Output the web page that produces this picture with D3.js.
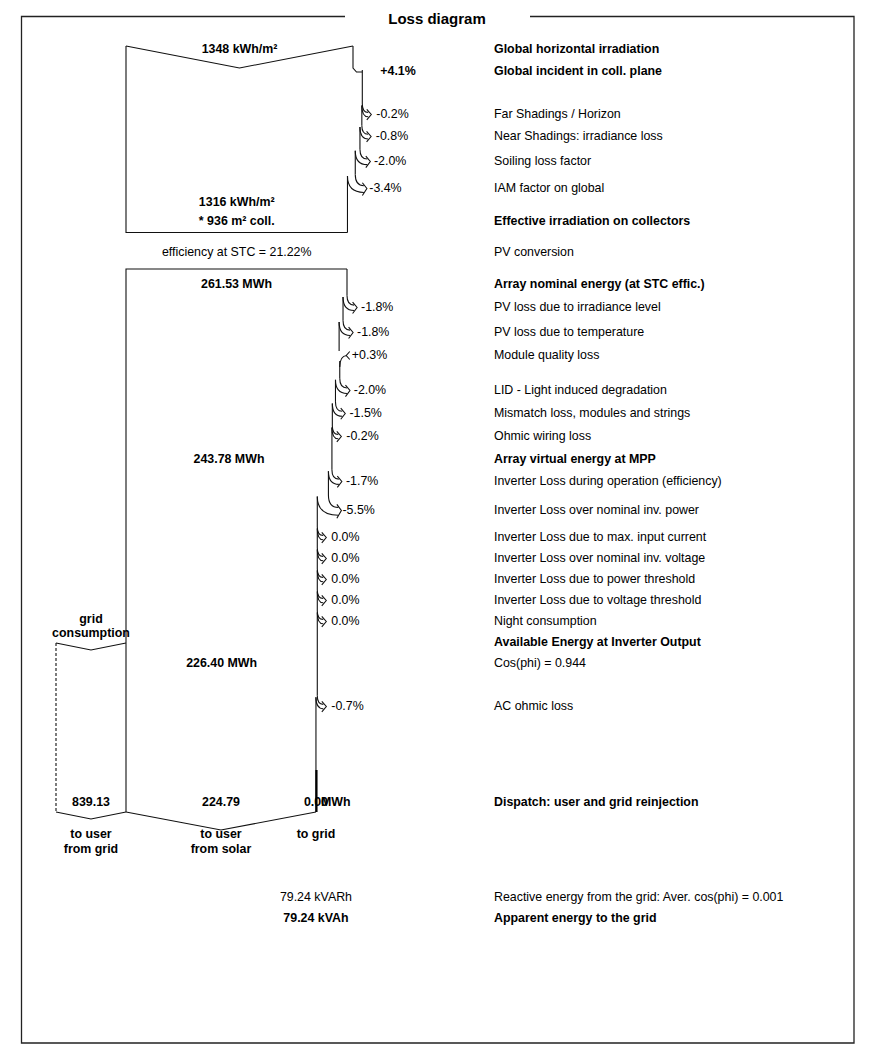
<!DOCTYPE html>
<html><head><meta charset="utf-8">
<script src="https://cdn.jsdelivr.net/npm/d3@7"></script>
<style>
body{margin:0;background:#fff}
text{font-family:"Liberation Sans",Arial,sans-serif;fill:#000}
</style>
</head><body>
<svg id="c" width="880" height="1050"></svg>
<script>
// ---------------- data ----------------
const rowLabels = [
  "Global horizontal irradiation",
  "Global incident in coll. plane",
  "Far Shadings / Horizon",
  "Near Shadings: irradiance loss",
  "Soiling loss factor",
  "IAM factor on global",
  "Effective irradiation on collectors",
  "PV conversion",
  "Array nominal energy (at STC effic.)",
  "PV loss due to irradiance level",
  "PV loss due to temperature",
  "Module quality loss",
  "LID - Light induced degradation",
  "Mismatch loss, modules and strings",
  "Ohmic wiring loss",
  "Array virtual energy at MPP",
  "Inverter Loss during operation (efficiency)",
  "Inverter Loss over nominal inv. power",
  "Inverter Loss due to max. input current",
  "Inverter Loss over nominal inv. voltage",
  "Inverter Loss due to power threshold",
  "Inverter Loss due to voltage threshold",
  "Night consumption",
  "Available Energy at Inverter Output",
  "Cos(phi) = 0.944",
  "AC ohmic loss",
  "Dispatch: user and grid reinjection",
  "Reactive energy from the grid: Aver. cos(phi) = 0.001",
  "Apparent energy to the grid"
];
const rowBold = [1,1,0,0,0,0,1,0,1,0,0,0,0,0,0,1,0,0,0,0,0,0,0,1,0,0,1,0,1];
// percentage change on each row (null = no loss/gain arrow)
const rowPct = [null,4.1,-0.2,-0.8,-2.0,-3.4,null,null,null,-1.8,-1.8,0.3,-2.0,-1.5,-0.2,null,-1.7,-5.5,0.0,0.0,0.0,0.0,0.0,null,null,-0.7,null,null,null];
// which block each row's arrow belongs to (1 = irradiation, 2 = energy)
const rowBlock = [0,1,1,1,1,1,0,0,0,2,2,2,2,2,2,0,2,2,2,2,2,2,2,0,0,2,0,0,0];

const irrGlobal = 1348;      // kWh/m²
const irrEffective = 1316;   // kWh/m²
const collArea = 936;        // m²
const stcEff = 21.22;        // %
const eNominal = 261.53;     // MWh
const eMPP = 243.78;         // MWh
const eInvOut = 226.40;      // MWh
const gridConsumption = 839.13;
const userFromSolar = 224.79;
const toGrid = 0.00;
const reactiveKVARh = 79.24;
const apparentKVAh = 79.24;

// ---------------- layout ----------------
const rowY = [49,71,114,136,161,188,221,252,284,307,332,355,390,413,436,459,481,510,537,558,579,600,621,642,663,706,802,897,918];
const labelX = 494;
const FS = 12.4;
const svg = d3.select("#c");
const x1 = d3.scaleLinear().domain([0, irrGlobal]).range([126, 353]);
const x2 = d3.scaleLinear().domain([0, eNominal]).range([126, 347]);
const line = "#111";

// frame
svg.append("path")
  .attr("d","M345,16.5 L21.5,16.5 L21.5,1043 L854,1043 L854,16.5 L530,16.5")
  .attr("fill","none").attr("stroke","#222").attr("stroke-width",1.3);
svg.append("text").attr("x",437).attr("y",19).attr("dy","0.36em")
  .attr("text-anchor","middle").attr("font-weight","bold").attr("font-size",15)
  .text("Loss diagram");

// right column labels
svg.append("g").selectAll("text").data(rowLabels).join("text")
  .attr("x",labelX).attr("y",(d,i)=>rowY[i]).attr("dy","0.36em")
  .attr("font-size",FS).attr("font-weight",(d,i)=>rowBold[i]?"bold":"normal")
  .text(d=>d);

function fmtPct(p){
  if (p>0) return "+"+p.toFixed(1)+"%";
  if (p<0) return p.toFixed(1)+"%";
  return "0.0%";
}

// draw a block's right edge with its loss/gain arrows
function drawEdge(block, xs, startE, topY, bottomY){
  let e = startE;
  let curX = xs(e), curY = topY;
  const g = svg.append("g").attr("fill","none").attr("stroke",line).attr("stroke-width",1.1);
  let first = true;
  rowPct.forEach((p,i)=>{
    if (rowBlock[i]!==block || p===null) return;
    const yc = rowY[i];
    const xOld = xs(e);
    e = e*(1+p/100);
    const xNew = xs(e);
    if (p>0 && block===1 && first){
      // step (transposition gain)
      g.append("path").attr("d",`M${xOld},${curY} L${xOld},${yc-3} L${xOld+3.5},${yc+1} L${xNew},${yc+1}`);
      curY = yc-1;
      svg.append("text").attr("x",xNew+18).attr("y",yc).attr("dy","0.36em")
        .attr("font-size",FS).attr("font-weight","bold").text(fmtPct(p));
    } else if (p>0){
      g.append("path").attr("d",`M${xOld},${curY} L${xOld},${yc-4}`);
      g.append("path").attr("d",`M${xNew},${yc+12} Q${xNew},${yc+1} ${xNew+7},${yc+0.5}`);
      g.append("path").attr("d",`M${xNew+10},${yc-3.5} L${xNew+6.5},${yc+0.5} L${xNew+10},${yc+4.5}`);
      curY = yc+6;
      svg.append("text").attr("x",xNew+12).attr("y",yc).attr("dy","0.36em")
        .attr("font-size",FS).text(fmtPct(p));
    } else {
      const w = Math.max(xOld-xNew, 1.2);
      const y0 = yc - 8 - w*0.5;
      const tx = xOld + 8 + w*0.4, ty = yc + 0.5;
      const eo = [tx-2.5, ty + 2 + w*0.25];
      const ei = [tx-2.5, ty - 2 - w*0.1];
      g.append("path").attr("d",`M${xOld},${curY} L${xOld},${y0-1.5}`);
      g.append("path").attr("d",`M${xOld},${y0-1.5} Q${xOld},${ei[1]} ${ei[0]},${ei[1]}`);
      g.append("path").attr("d",`M${xNew},${y0} Q${xNew},${eo[1]} ${eo[0]},${eo[1]}`);
      g.append("path").attr("d",`M${ei[0]-1.5},${ei[1]-3} L${tx+0.5},${ty} L${eo[0]-1.5},${eo[1]+3}`);
      curY = y0;
      svg.append("text").attr("x",xOld+14).attr("y",yc).attr("dy","0.36em")
        .attr("font-size",FS).text(fmtPct(p));
    }
    first = false;
    curX = xNew;
  });
  g.append("path").attr("d",`M${curX},${curY} L${curX},${bottomY}`);
  return {e, x: curX};
}

// ----- block 1 : irradiation -----
const b1Top = 46, b1Tip = 68, b1Bottom = 232.5;
const b1L = x1(0), b1R = x1(irrGlobal);
svg.append("path").attr("fill","none").attr("stroke",line).attr("stroke-width",1.1)
  .attr("d",`M${b1L},${b1Top} L${(b1L+b1R)/2},${b1Tip} L${b1R},${b1Top}`);
const end1 = drawEdge(1, x1, irrGlobal, b1Top, b1Bottom);
svg.append("path").attr("fill","none").attr("stroke",line).attr("stroke-width",1.1)
  .attr("d",`M${end1.x},${b1Bottom} L${b1L},${b1Bottom} L${b1L},${b1Top}`);

const bold = (x,y,t,anchor="middle")=>svg.append("text").attr("x",x).attr("y",y).attr("dy","0.36em")
  .attr("text-anchor",anchor).attr("font-size",FS).attr("font-weight","bold").text(t);
const norm = (x,y,t,anchor="middle")=>svg.append("text").attr("x",x).attr("y",y).attr("dy","0.36em")
  .attr("text-anchor",anchor).attr("font-size",FS).text(t);

bold((b1L+b1R)/2, rowY[0], irrGlobal+" kWh/m²");
bold((b1L+end1.x)/2, 202, irrEffective+"  kWh/m²");
bold((b1L+end1.x)/2, rowY[6], "* "+collArea+" m² coll.");
norm((b1L+end1.x)/2, rowY[7], "efficiency at STC = "+stcEff.toFixed(2)+"%");

// ----- block 2 : energy -----
const b2Top = 269, b2Bottom = 812, b2Tip = 830;
const b2L = x2(0), b2R = x2(eNominal);
svg.append("path").attr("fill","none").attr("stroke",line).attr("stroke-width",1.1)
  .attr("d",`M${b2L},${b2Bottom} L${b2L},${b2Top} L${b2R},${b2Top}`);
const end2 = drawEdge(2, x2, eNominal, b2Top, b2Bottom);
const xUser = x2(userFromSolar);
svg.append("path").attr("fill","none").attr("stroke",line).attr("stroke-width",1.1)
  .attr("d",`M${b2L},${b2Bottom} L${(b2L+xUser)/2},${b2Tip} L${end2.x},${b2Bottom}`);
// to grid (thick)
svg.append("line").attr("x1",end2.x+0.5).attr("x2",end2.x+0.5).attr("y1",770).attr("y2",b2Bottom)
  .attr("stroke","#000").attr("stroke-width",2.2);

bold((b2L+b2R)/2, rowY[8], eNominal.toFixed(2)+" MWh");
bold((b2L+x2(eMPP))/2, rowY[15], eMPP.toFixed(2)+" MWh");
bold((b2L+x2(eInvOut))/2, rowY[24], eInvOut.toFixed(2)+" MWh");

// grid consumption block
const gL = 56, gR = b2L, gTop = 643, gBot = 812;
svg.append("path").attr("fill","none").attr("stroke",line).attr("stroke-width",1.1)
  .attr("d",`M${gL},${gTop} L${(gL+gR)/2},${gTop+7} L${gR},${gTop}`);
svg.append("path").attr("fill","none").attr("stroke",line).attr("stroke-width",1.1)
  .attr("d",`M${gL},${gBot} L${(gL+gR)/2},${gBot+7} L${gR},${gBot}`);
svg.append("line").attr("x1",gL).attr("x2",gL).attr("y1",gTop).attr("y2",gBot)
  .attr("stroke",line).attr("stroke-width",1.1).attr("stroke-dasharray","3,2");
bold((gL+gR)/2, 619, "grid");
bold((gL+gR)/2, 633, "consumption");

bold((gL+gR)/2, rowY[26], gridConsumption.toFixed(2));
bold((b2L+xUser)/2, rowY[26], userFromSolar.toFixed(2));
bold(end2.x, rowY[26], toGrid.toFixed(2));
bold(end2.x+5, rowY[26], "MWh", "start");

bold((gL+gR)/2, 834, "to user");
bold((gL+gR)/2, 849, "from grid");
bold((b2L+xUser)/2, 834, "to user");
bold((b2L+xUser)/2, 849, "from solar");
bold(end2.x, 834, "to grid");

norm(end2.x, rowY[27], reactiveKVARh.toFixed(2)+" kVARh");
bold(end2.x, rowY[28], apparentKVAh.toFixed(2)+" kVAh");
</script>
</body></html>
